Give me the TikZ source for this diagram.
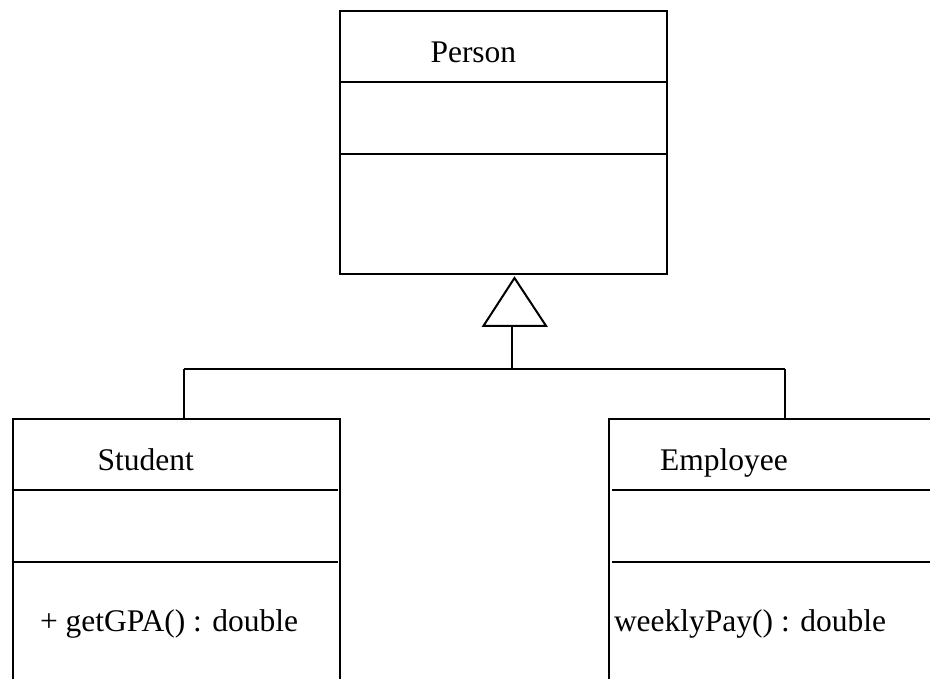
\documentclass[tikz,border=0pt]{standalone}
\usepackage{fontspec}
\setmainfont{Liberation Serif}
\begin{document}
\begin{tikzpicture}[x=1pt,y=-1pt,
  line width=2pt,
  classbox/.style={draw,rectangle,inner sep=0pt,anchor=north west},
  lbl/.style={inner sep=0pt,anchor=base west,font=\fontsize{31.5}{36}\selectfont}]
\useasboundingbox (0,0) rectangle (930,679);
\clip (0,0) rectangle (930,679);
% Person
\node[classbox,minimum width=327pt,minimum height=263pt] (person) at (339,10) {};
\draw (339,82) -- (666,82);
\draw (339,154) -- (666,154);
\node[lbl] (personlbl) at (429.5,63) {Person};
% Student
\node[classbox,minimum width=327pt,minimum height=300pt] (student) at (11.7,418.3) {};
\draw (11.7,490) -- (338.3,490);
\draw (11.7,561.7) -- (338.3,561.7);
\node[lbl] (studentlbl) at (96.5,470.5) {Student};
\node[lbl] (gpa) at (39,631.5) {+ getGPA() : double};
% Employee
\node[classbox,minimum width=360pt,minimum height=300pt] (employee) at (608.3,418.3) {};
\draw (611.7,490) -- (935,490);
\draw (611.7,561.7) -- (935,561.7);
\node[lbl] (employeelbl) at (659,470) {Employee};
\node[lbl] (weekly) at (613,631.5) {weeklyPay() : double};
% generalization
\coordinate (apex) at (514.5,278);
\coordinate (bl) at (483.5,325.8);
\coordinate (br) at (546,325.8);
\coordinate (tb) at (511.8,325.8);
\coordinate (bus) at (511.8,369.5);
\coordinate (sj) at (184,369.5);
\coordinate (ej) at (784.5,369.5);
\draw[line join=miter] (apex) -- (bl) -- (br) -- cycle;
\draw (tb) -- (bus);
\draw (sj) -- (ej);
\draw (sj) -- (sj |- student.north);
\draw (ej) -- (ej |- employee.north);
\end{tikzpicture}
\end{document}
